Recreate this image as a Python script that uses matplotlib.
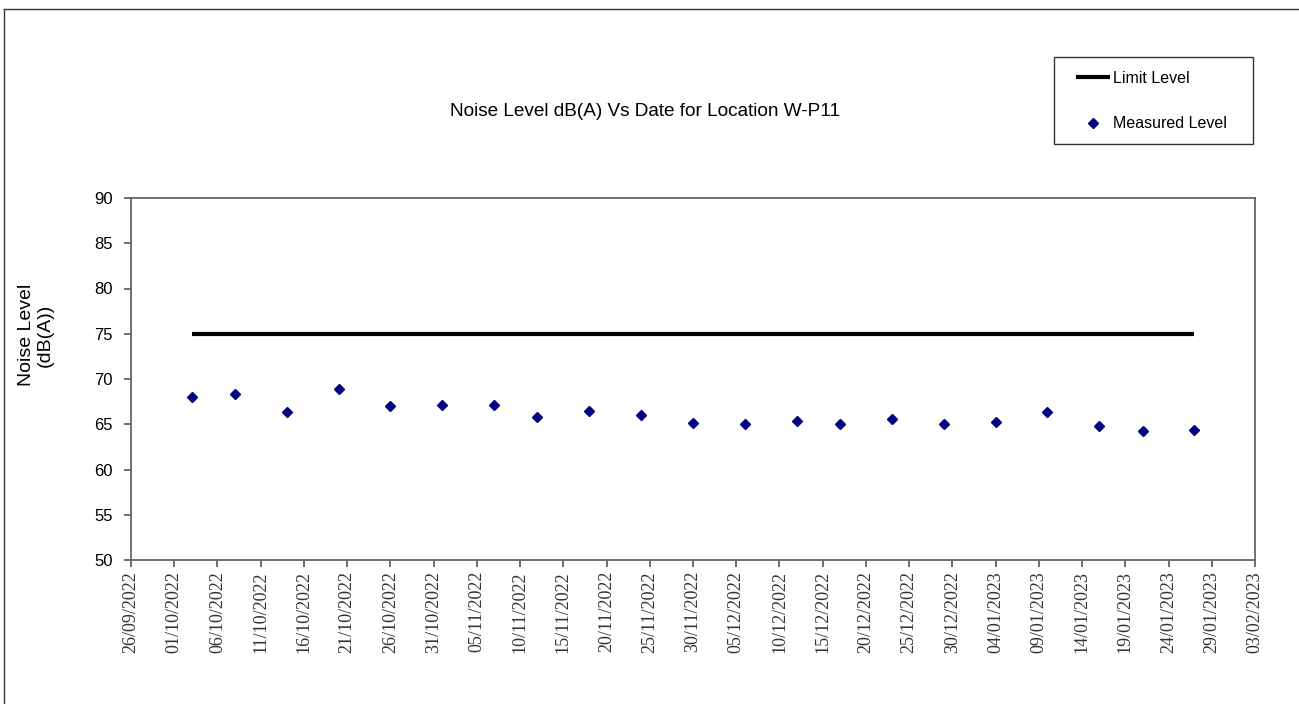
import matplotlib
matplotlib.use("Agg")
import matplotlib.pyplot as plt
import matplotlib.dates as mdates
from matplotlib.lines import Line2D
from matplotlib.patches import Rectangle
import pandas as pd

# Survey data
measure_dates = ["2022-10-03", "2022-10-08", "2022-10-14", "2022-10-20", "2022-10-26",
                 "2022-11-01", "2022-11-07", "2022-11-12", "2022-11-18", "2022-11-24",
                 "2022-11-30", "2022-12-06", "2022-12-12", "2022-12-17", "2022-12-23",
                 "2022-12-29", "2023-01-04", "2023-01-10", "2023-01-16", "2023-01-21",
                 "2023-01-27"]
measured_level = [68.0, 68.3, 66.3, 68.9, 67.0, 67.1, 67.1, 65.8, 66.5, 66.0,
                  65.1, 65.0, 65.4, 65.0, 65.6, 65.0, 65.3, 66.3, 64.8, 64.3, 64.4]
limit_level = [75.0] * len(measure_dates)

x_start, x_end = "2022-09-26", "2023-02-03"
tick_step_days = 5
y_ticks = [50, 55, 60, 65, 70, 75, 80, 85, 90]

dates = pd.to_datetime(measure_dates)
W, H = 1299, 704
fig = plt.figure(figsize=(W / 100, H / 100), dpi=100)
ax = fig.add_axes([131 / W, 1 - 560 / H, (1255 - 131) / W, (560 - 198) / H])

limit_line, = ax.plot(dates, limit_level, color="black", lw=3.0, solid_capstyle="butt",
                      label="Limit Level")
meas_pts, = ax.plot(dates, measured_level, linestyle="none", marker="D", markersize=5.2,
                    color="#000080", label="Measured Level")

ticks = pd.date_range(x_start, x_end, freq=f"{tick_step_days}D")
ax.set_xlim(pd.Timestamp(x_start), pd.Timestamp(x_end))
ax.set_xticks(ticks)
ax.xaxis.set_major_formatter(mdates.DateFormatter("%d/%m/%Y"))
ax.set_ylim(50, 90)
ax.set_yticks(y_ticks)

for lbl in ax.get_xticklabels():
    lbl.set_rotation(90)
    lbl.set_fontfamily("Liberation Serif")
    lbl.set_fontsize(13)
    lbl.set_color("#333333")
for lbl in ax.get_yticklabels():
    lbl.set_fontfamily("Liberation Sans")
    lbl.set_fontsize(12)

ax.tick_params(axis="both", direction="out", length=5, width=1.2, color="#555555")
ax.tick_params(axis="x", pad=3)
ax.tick_params(axis="y", pad=8)
for s in ax.spines.values():
    s.set_color("#666666")
    s.set_linewidth(1.3)

fig.text(36 / W, 1 - 335 / H, "Noise Level\n(dB(A))", rotation=90, ha="center", va="center",
         fontsize=14, family="Liberation Sans", linespacing=1.15)
fig.text(645 / W, 1 - 112 / H, "Noise Level dB(A) Vs Date for Location W-P11",
         ha="center", va="center", fontsize=13.7, family="Liberation Sans")

# legend entries, with a separately drawn frame
leg = fig.legend(handles=[limit_line, meas_pts], loc="upper left",
                 bbox_to_anchor=(1076 / W, 1 - 71 / H), frameon=False,
                 prop={"family": "Liberation Sans", "size": 11.5}, labelspacing=1.9,
                 handlelength=2.1, handletextpad=0.2, borderpad=0, borderaxespad=0)
fig.add_artist(Rectangle((1054 / W, 1 - 144 / H), (1253 - 1054) / W, (144 - 57) / H,
                         transform=fig.transFigure, fill=False, edgecolor="#333333", lw=1.0))

# outer frame lines
fig.add_artist(Line2D([4 / W, 4 / W], [0, 1 - 9 / H], transform=fig.transFigure,
                      color="#333333", lw=1.0))
fig.add_artist(Line2D([4 / W, 1], [1 - 9 / H, 1 - 9 / H], transform=fig.transFigure,
                      color="#333333", lw=1.0))

fig.savefig("out.png", dpi=100)
